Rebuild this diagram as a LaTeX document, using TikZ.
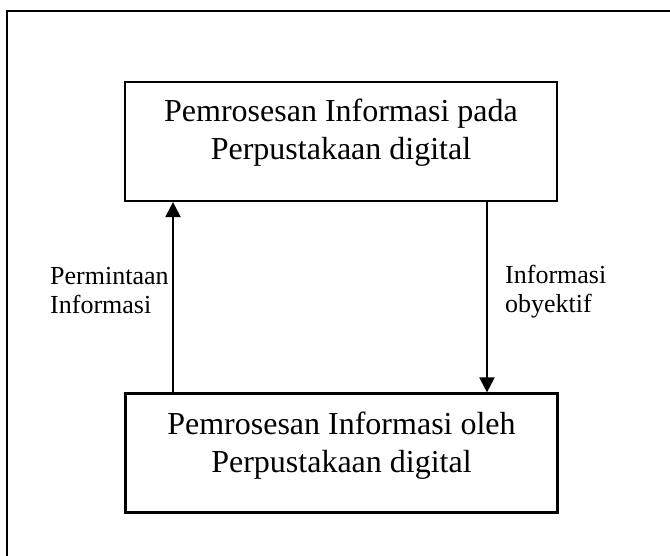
\documentclass[tikz,border=0pt]{standalone}
\usepackage{fontspec}
\setmainfont{Liberation Serif}
\usetikzlibrary{arrows.meta}
\begin{document}
\begin{tikzpicture}[x=1pt,y=-1pt,
  box/.style={draw, line width=2.2pt, minimum width=432pt, minimum height=119pt, inner sep=0pt},
  boxtext/.style={font=\fontsize{32}{38}\selectfont, align=center, inner sep=0pt, anchor=north},
  lbl/.style={font=\fontsize{26}{29}\selectfont, align=left, inner sep=0pt, anchor=north west},
  flow/.style={line width=2.2pt, -{Triangle[length=15pt,width=15pt]}}]
\useasboundingbox (0,0) rectangle (670,556);
\clip (0,0) rectangle (670,556);
\draw[line width=2pt] (7,11) rectangle (700,600);
\node[box] (top) at (341,141.5) {};
\node[box] (bot) at (341.5,453) {};
\node[boxtext] (toptext) at (341,98.5) {Pemrosesan Informasi pada\\Perpustakaan digital};
\node[boxtext] (bottext) at (341.5,411.5) {Pemrosesan Informasi oleh\\Perpustakaan digital};
\draw[flow] ([xshift=-168.5pt]bot.north) -- ([xshift=-168pt]top.south);
\draw[flow] ([xshift=146pt]top.south) -- ([xshift=145.5pt]bot.north);
\node[lbl] (req) at (50,267) {Permintaan\\Informasi};
\node[lbl] (obj) at (505,265) {Informasi\\obyektif};
\end{tikzpicture}
\end{document}
